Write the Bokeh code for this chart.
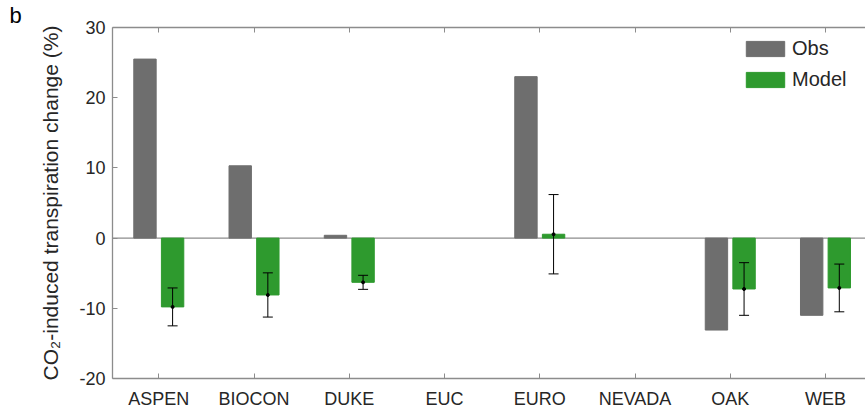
from bokeh.plotting import figure
from bokeh.models import (Range1d, FixedTicker, LinearAxis, Span, Whisker,
                          ColumnDataSource, Legend, LegendItem, TeeHead)
from bokeh.embed import file_html
from bokeh.resources import INLINE

# CO2-induced transpiration change (%) per FACE site
sites = ["ASPEN", "BIOCON", "DUKE", "EUC", "EURO", "NEVADA", "OAK", "WEB"]
obs = [25.5, 10.3, 0.4, None, 23.0, None, -13.1, -11.0]
model = [-9.8, -8.1, -6.3, None, 0.55, None, -7.25, -7.1]
model_err = [2.7, 3.15, 1.0, None, 5.65, None, 3.75, 3.4]
y_ticks = [-20, -10, 0, 10, 20, 30]

FONT = "Liberation Sans"
TEXT = "#262626"
AXIS = "#8c8c8c"
OBS_COLOR = "#6e6e6e"
MODEL_COLOR = "#2e9a2e"
OFFSET = 0.145
BAR_W = 0.235

W, H = 865, 414
LEFT, BOTTOM = 112, 36

pos = list(range(1, len(sites) + 1))

obs_src = ColumnDataSource(dict(
    x=[p - OFFSET for p, v in zip(pos, obs) if v is not None],
    top=[v for v in obs if v is not None],
))
mod_rows = [(p, v, e) for p, v, e in zip(pos, model, model_err) if v is not None]
mod_src = ColumnDataSource(dict(
    x=[p + OFFSET for p, v, e in mod_rows],
    top=[v for p, v, e in mod_rows],
    upper=[v + e for p, v, e in mod_rows],
    lower=[v - e for p, v, e in mod_rows],
))

p = figure(width=W, height=H, output_backend="svg", toolbar_location=None,
           x_range=Range1d(0.514, 8.42), y_range=Range1d(-20, 30),
           min_border_left=LEFT, min_border_right=0, min_border_top=0,
           min_border_bottom=BOTTOM)
p.outline_line_color = None
p.xgrid.grid_line_color = None
p.ygrid.grid_line_color = None
p.background_fill_color = "white"
p.border_fill_color = "white"

# panel letter
p.title.text = "b"
p.title.align = "left"
p.title.offset = 9 - LEFT
p.title.standoff = 0
p.title.text_font = FONT
p.title.text_font_size = "22px"
p.title.text_font_style = "normal"
p.title.text_color = "black"

# baseline at zero
p.add_layout(Span(location=0, dimension="width", line_color=AXIS, line_width=1.3,
                  level="underlay"))

r_obs = p.vbar(x="x", top="top", bottom=0, width=BAR_W, source=obs_src,
               fill_color=OBS_COLOR, line_color=OBS_COLOR)
r_mod = p.vbar(x="x", top="top", bottom=0, width=BAR_W, source=mod_src,
               fill_color=MODEL_COLOR, line_color=MODEL_COLOR)

p.add_layout(Whisker(source=mod_src, base="x", upper="upper", lower="lower",
                     level="annotation", line_color="black", line_width=1,
                     upper_head=TeeHead(size=10, line_color="black", line_width=1),
                     lower_head=TeeHead(size=10, line_color="black", line_width=1)))
p.scatter(x="x", y="top", source=mod_src, size=3, color="black", level="annotation")

# axes
xa = p.xaxis[0]
xa.ticker = FixedTicker(ticks=pos)
xa.major_label_overrides = {k: s for k, s in zip(pos, sites)}
ya = p.yaxis[0]
ya.ticker = FixedTicker(ticks=y_ticks)
ya.major_label_overrides = {t: str(t) for t in y_ticks}
ya.axis_label = "CO\u2082-induced transpiration change (%)"
ya.axis_label_text_font = FONT
ya.axis_label_text_font_size = "21px"
ya.axis_label_text_font_style = "normal"
ya.axis_label_text_color = TEXT
ya.axis_label_standoff = 14
for ax in (xa, ya):
    ax.axis_line_color = AXIS
    ax.axis_line_width = 1.3
    ax.major_tick_line_color = AXIS
    ax.major_tick_in = 5
    ax.major_tick_out = 0
    ax.minor_tick_line_color = None
    ax.major_label_text_font = FONT
    ax.major_label_text_font_size = "18px"
    ax.major_label_text_color = TEXT
xa.major_label_standoff = 10
ya.major_label_standoff = 7

top_axis = LinearAxis(ticker=FixedTicker(ticks=pos), axis_line_color=AXIS,
                      axis_line_width=1.3, major_tick_line_color=AXIS,
                      major_tick_in=5, major_tick_out=0, major_label_standoff=0,
                      minor_tick_line_color=None, major_label_text_color=None,
                      major_label_text_font_size="0px")
p.add_layout(top_axis, "above")

# legend box, positioned from the bottom-left corner of the frame
legend = Legend(items=[LegendItem(label="Obs", renderers=[r_obs]),
                       LegendItem(label="Model", renderers=[r_mod])],
                location=(629, 287), orientation="vertical",
                padding=0, margin=0, spacing=8, glyph_width=48, glyph_height=19,
                label_standoff=3, label_height=19, label_text_font=FONT,
                label_text_font_size="20px", label_text_color=TEXT,
                border_line_color=None, background_fill_alpha=0)
p.add_layout(legend)

open("out.html", "w").write(file_html(p, INLINE))
